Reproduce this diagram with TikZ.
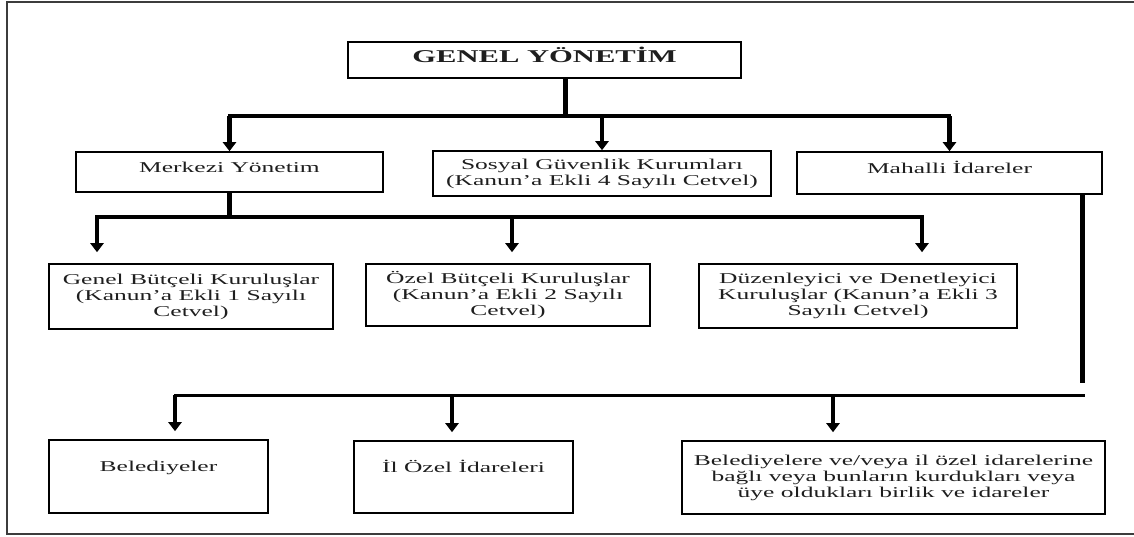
\documentclass[tikz,border=0pt]{standalone}
\usepackage{fontspec}
\setmainfont{Liberation Serif}[FakeStretch=1.7]
\usepackage{tikz}
\usetikzlibrary{arrows.meta,positioning,calc}
\definecolor{framegray}{HTML}{3C3C3C}
\definecolor{textgray}{HTML}{1E1E1E}

\begin{document}
\begin{tikzpicture}[x=1pt,y=-1pt,
  orgbox/.style={draw=black,line width=1.6pt,align=center,inner sep=0pt,
    text=textgray,font=\fontsize{15}{16}\selectfont},
  bus/.style={line width=3.5pt,line cap=rect},
  stem/.style={line width=5pt},
  arr/.style={line width=4.5pt,-{Triangle[width=13pt,length=9pt]}}]
  \useasboundingbox (0,0) rectangle (1134,536);

  % Outer frame
  \draw[framegray,line width=2pt] (1134,2) -| (7,534) -- (1134,534);

  % Top box
  \node[orgbox,minimum width=393pt,minimum height=36pt,text height=16pt,text depth=12pt,
    font=\fontsize{18}{20}\selectfont\bfseries] (genel) at (544.5,60) {GENEL YÖNETİM};

  % First level
  \node[orgbox,minimum width=307pt,minimum height=40pt,text height=13pt,text depth=13pt]
    (merkezi) at (229.5,172) {Merkezi Yönetim};
  \node[orgbox,minimum width=338pt,minimum height=45pt]
    (sosyal) at (602,173.5) {Sosyal Güvenlik Kurumları\\(Kanun'a Ekli 4 Sayılı Cetvel)};
  \node[orgbox,minimum width=305pt,minimum height=42pt,text height=13pt,text depth=13pt]
    (mahalli) at (949.5,173) {Mahalli İdareler};

  % Second level
  \node[orgbox,minimum width=284pt,minimum height=65pt]
    (genelb) at (191,296.5) {Genel Bütçeli Kuruluşlar\\(Kanun'a Ekli 1 Sayılı\\Cetvel)};
  \node[orgbox,minimum width=284pt,minimum height=62pt]
    (ozelb) at (508,295) {Özel Bütçeli Kuruluşlar\\(Kanun'a Ekli 2 Sayılı\\Cetvel)};
  \node[orgbox,minimum width=318pt,minimum height=64pt]
    (duzen) at (858,296) {Düzenleyici ve Denetleyici\\Kuruluşlar (Kanun'a Ekli 3\\Sayılı Cetvel)};

  % Third level
  \node[orgbox,minimum width=219pt,minimum height=73pt,text height=13pt,text depth=23pt]
    (beled) at (158.5,476.5) {Belediyeler};
  \node[orgbox,minimum width=219pt,minimum height=72pt,text height=13pt,text depth=23pt]
    (ilozel) at (463.5,477) {İl Özel İdareleri};
  \node[orgbox,minimum width=423pt,minimum height=73pt]
    (birlik) at (893.5,477.5) {Belediyelere ve/veya il özel idarelerine\\bağlı veya bunların kurdukları veya\\üye oldukları birlik ve idareler};

  % Genel -> first level
  \coordinate (j1) at (565,116);
  \draw[stem] (genel.south -| j1) -- (j1);
  \draw[bus] (merkezi.north |- j1) -- (mahalli.north |- j1);
  \foreach \b in {merkezi,sosyal,mahalli}
    \draw[arr] (\b.north |- j1) -- (\b.north);

  % Merkezi -> second level
  \coordinate (m1) at (97,217);
  \coordinate (m2) at (512,217);
  \coordinate (m3) at (922,217);
  \draw[stem] (merkezi.south) -- (merkezi.south |- m1);
  \draw[bus] (m1) -- (m3);
  \draw[arr,shorten >=11pt] (m1) -- (m1 |- genelb.north);
  \draw[arr,shorten >=11pt] (m2) -- (m2 |- ozelb.north);
  \draw[arr,shorten >=11pt] (m3) -- (m3 |- duzen.north);

  % Mahalli -> third level
  \coordinate (k0) at (1082,383);
  \coordinate (k1) at (1083,395);
  \coordinate (b1) at (175,395);
  \coordinate (b2) at (452,395);
  \coordinate (b3) at (833,395);
  \draw[stem] (mahalli.south -| k0) -- (k0);
  \draw[bus,line width=3pt] (k1) -- (b1);
  \draw[arr,shorten >=8pt] (b1) -- (b1 |- beled.north);
  \draw[arr,shorten >=8pt] (b2) -- (b2 |- ilozel.north);
  \draw[arr,shorten >=8pt] (b3) -- (b3 |- birlik.north);
\end{tikzpicture}
\end{document}
